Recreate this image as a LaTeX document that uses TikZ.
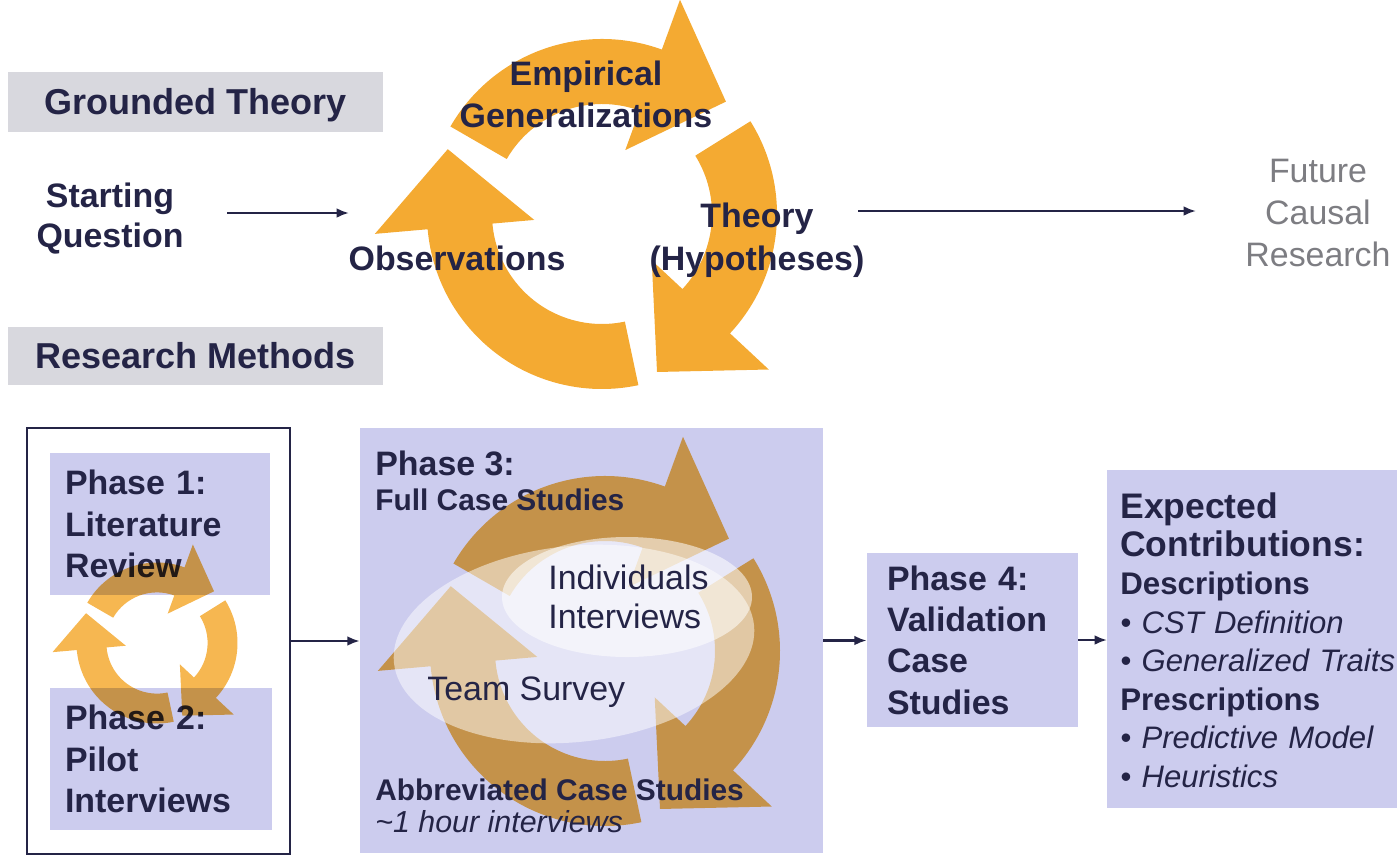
\documentclass[tikz,border=0pt]{standalone}
\usepackage{fontspec}
\setmainfont{Liberation Sans}
\usetikzlibrary{arrows.meta}
\definecolor{navy}{RGB}{36,36,70}
\definecolor{graybox}{RGB}{216,216,222}
\definecolor{lavender}{RGB}{204,204,238}
\definecolor{cycleorange}{RGB}{244,170,50}
\definecolor{futuregray}{RGB}{125,125,130}
\newcommand{\headfont}{\bfseries\fontsize{20.5}{24}\selectfont}
\newcommand{\bodyfont}[1][23.8]{\bfseries\fontsize{19.3}{#1}\selectfont}
\newcommand{\subfont}{\bfseries\fontsize{17}{20}\selectfont}
\newcommand{\plainfont}[1][23.8]{\fontsize{19.3}{#1}\selectfont}
% one bent arrow of a cycle: tail angle, head angle (clockwise)
\newcommand{\cyclearrow}[2]{%
  \fill (#1:175) arc[start angle=#1, end angle=#2, radius=175]
    -- (#2:228) -- ({#2-27.8}:167.3) -- (#2:68)
    -- (#2:110) arc[start angle=#2, end angle=#1, radius=110] -- cycle;}

\begin{document}
\begin{tikzpicture}[x=0.02cm, y=0.02cm,
    headbox/.style={fill=graybox, text=navy, font=\headfont, minimum width=7.5cm,
      text height=14pt, text depth=0pt, inner sep=0pt},
    phasebox/.style={fill=lavender, text=navy, font=\bodyfont, align=left,
      inner xsep=0.3cm, inner ysep=0pt},
    cyclelabel/.style={text=navy, font=\bodyfont, align=center, inner sep=0pt},
    plaintext/.style={text=navy, inner sep=0pt, anchor=base west},
    flow/.style={draw=navy, line width=1.3pt, -{Latex[length=7pt,width=5.5pt]}}]
  \useasboundingbox (0,0) rectangle (1397,-856);

  % grounded theory part
  \node[headbox, minimum height=1.2cm] (gt) at (195.5,-102) {Grounded Theory};
  \node[headbox, minimum height=1.16cm] (rm) at (195.5,-356) {Research Methods};

  \begin{scope}[shift={(602,-214)}, fill=cycleorange]
    \cyclearrow{150}{70}
    \cyclearrow{32}{-43}
    \cyclearrow{-78}{-175}
  \end{scope}

  \node[cyclelabel, anchor=base] (emp) at (586,-127) {Empirical\\Generalizations};
  \node[cyclelabel, anchor=base] (obs) at (457,-270) {Observations};
  \node[cyclelabel, anchor=base, font={\bodyfont[24.4]}] (theo) at (757,-270) {Theory\\(Hypotheses)};
  \node[cyclelabel, anchor=base, font={\bodyfont[22.7]}] (sq) at (110,-247) {Starting\\Question};
  \node[anchor=base, align=center, text=futuregray, font=\plainfont, inner sep=0pt] (fut) at (1318,-266) {Future\\Causal\\Research};

  \coordinate (sqout) at (227,-213);
  \coordinate (obsin) at (349,-213);
  \coordinate (theoout) at (858,-211);
  \coordinate (futin) at (1196,-211);
  \draw[flow] (sqout) -- (obsin);
  \draw[flow] (theoout) -- (futin);

  % research methods part
  \node[draw=navy, line width=1.2pt, minimum width=5.26cm, minimum height=8.52cm, inner sep=0pt] (early) at (158.5,-641) {};
  \node[phasebox, minimum width=4.4cm, minimum height=2.84cm, text width=3.8cm] (p1) at (160,-524) {Phase 1:\\Literature\\Review};
  \node[phasebox, minimum width=4.44cm, minimum height=2.84cm, text width=3.84cm] (p2) at (161,-759) {Phase 2:\\Pilot\\Interviews};
  \begin{scope}[shift={(157,-643)}, scale=0.46, blend mode=multiply, fill=cycleorange, fill opacity=0.85]
    \cyclearrow{150}{70}
    \cyclearrow{32}{-43}
    \cyclearrow{-78}{-175}
  \end{scope}

  \node[fill=lavender, minimum width=9.26cm, minimum height=8.5cm, inner sep=0pt] (p3) at (591.5,-640.5) {};
  \begin{scope}[shift={(605,-651)}, blend mode=multiply, fill=cycleorange, fill opacity=0.85]
    \cyclearrow{150}{70}
    \cyclearrow{32}{-43}
    \cyclearrow{-78}{-175}
  \end{scope}
  \fill[white, fill opacity=0.5, rotate around={6:(574,-644)}] (574,-644) ellipse [x radius=181, y radius=98];
  \fill[white, fill opacity=0.55] (627,-597) ellipse [x radius=125, y radius=60];

  \node[plaintext, font=\bodyfont] (p3title) at (375,-475) {Phase 3:};
  \node[plaintext, font=\subfont] (p3full) at (375,-510) {Full Case Studies};
  \node[plaintext, font={\plainfont[22.1]}, align=left] (indiv) at (548,-628) {Individuals\\Interviews};
  \node[plaintext, font=\plainfont] (team) at (427,-700) {Team Survey};
  \node[plaintext, font=\subfont] (abbr) at (375,-800) {Abbreviated Case Studies};
  \node[plaintext, font=\itshape\fontsize{17.3}{20}\selectfont] (hour) at (375,-832) {\textasciitilde 1 hour interviews};

  \node[phasebox, inner xsep=0.4cm, minimum width=4.22cm, minimum height=3.48cm, text width=3.42cm,
    font={\bodyfont[23.5]}] (p4) at (972.5,-640) {Phase 4:\\Validation\\Case\\Studies};

  \node[fill=lavender, anchor=north west, minimum width=6cm, minimum height=6.76cm, inner sep=0pt] (exp) at (1107,-470) {};
  \node[plaintext, text width=5.6cm, align=left, font=\fontsize{17.7}{21.9}\selectfont] (contrib) at (1120,-518)
    {\bfseries\fontsize{20.2}{21.9}\selectfont Expected\\Contributions:\\
     \fontsize{17.8}{21.9}\selectfont Descriptions\\
     \mdseries\itshape\fontsize{17.7}{21.9}\selectfont \textbullet\ CST Definition\\
     \textbullet\ Generalized Traits\\
     \upshape\bfseries\fontsize{17.8}{21.9}\selectfont Prescriptions\\
     \mdseries\itshape\fontsize{17.7}{21.9}\selectfont \textbullet\ Predictive Model\\
     \textbullet\ Heuristics};

  \draw[flow] (early.east) -- (early.east -| p3.west);
  \draw[flow] (p3.east) -- (p3.east -| p4.west);
  \draw[flow] (p4.east) -- (p4.east -| exp.west);
\end{tikzpicture}
\end{document}
